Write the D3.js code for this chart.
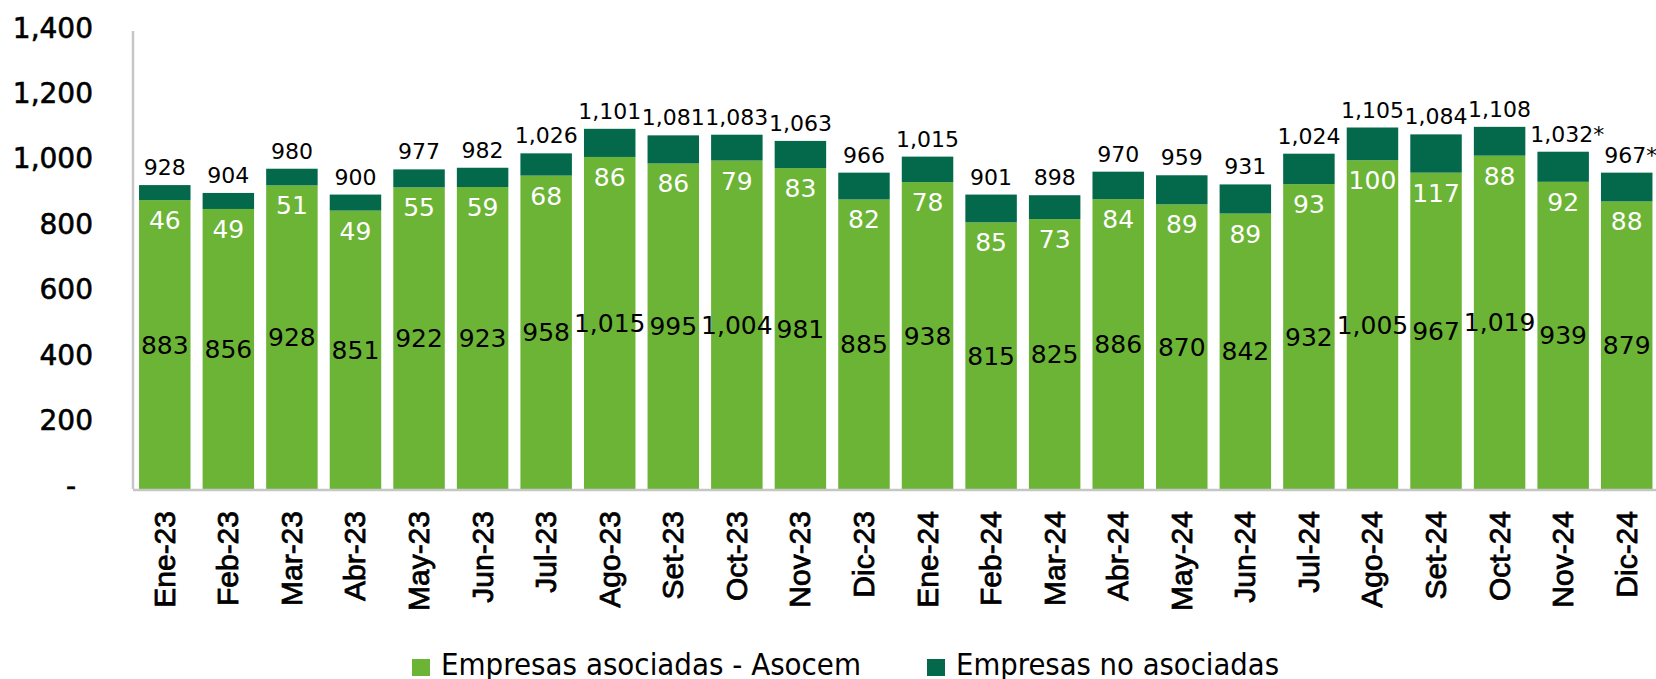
<!DOCTYPE html>
<html>

<head>
    <meta charset="utf-8">
    <style>
        body {
            margin: 0;
            background: #ffffff;
        }

        svg {
            display: block;
        }

        .ytick {
            font-family: "DejaVu Sans", sans-serif;
            font-size: 28px;
            fill: #000000;
            stroke: #000000;
            stroke-width: 0.6px;
        }

        .xtick {
            font-family: "Liberation Sans", Arial, sans-serif;
            font-size: 30px;
            fill: #000000;
            stroke: #000000;
            stroke-width: 0.8px;
        }

        .lbl {
            font-family: "DejaVu Sans", sans-serif;
        }

        .legend-text {
            font-family: "DejaVu Sans", sans-serif;
            font-size: 30px;
            fill: #000000;
        }
    </style>
</head>

<body>
    <svg width="1656" height="679"></svg>
</body>

<script src="https://d3js.org/d3.v7.min.js"></script>

<script>
//------------------------1. DATA------------------------//
let months = ["Ene-23", "Feb-23", "Mar-23", "Abr-23", "May-23", "Jun-23", "Jul-23", "Ago-23", "Set-23", "Oct-23", "Nov-23", "Dic-23",
              "Ene-24", "Feb-24", "Mar-24", "Abr-24", "May-24", "Jun-24", "Jul-24", "Ago-24", "Set-24", "Oct-24", "Nov-24", "Dic-24"]

//Empresas asociadas - Asocem
let asociadas = [883, 856, 928, 851, 922, 923, 958, 1015, 995, 1004, 981, 885,
                 938, 815, 825, 886, 870, 842, 932, 1005, 967, 1019, 939, 879]

//Empresas no asociadas
let noAsociadas = [46, 49, 51, 49, 55, 59, 68, 86, 86, 79, 83, 82,
                   78, 85, 73, 84, 89, 89, 93, 100, 117, 88, 92, 88]

//Totals shown above each bar
let totals = [928, 904, 980, 900, 977, 982, 1026, 1101, 1081, 1083, 1063, 966,
              1015, 901, 898, 970, 959, 931, 1024, 1105, 1084, 1108, 1032, 967]

//months whose total carries an asterisk
let preliminary = ["Nov-24", "Dic-24"]

let yTicks = [0, 200, 400, 600, 800, 1000, 1200, 1400]

let seriesNames = ["Empresas asociadas - Asocem", "Empresas no asociadas"]
let colors = ["#6cb436", "#03694a"]

let rows = months.map(function(m, i){
    return {month: m, asociadas: asociadas[i], noAsociadas: noAsociadas[i], total: totals[i]}
})

//------------------------2. SCALES------------------------//
let svg = d3.select("svg")
let margins = {top: 31, right: -2.5, bottom: 190, left: 133}
let width = 1656
let height = 679

let x = d3.scaleBand()
    .domain(months)
    .range([margins.left, width - margins.right])
    .paddingInner(0.19)
    .paddingOuter(0.095)

let y = d3.scaleLinear()
    .domain([0, 1400])
    .range([height - margins.bottom, margins.top])

let fmt = d3.format(",")

//------------------------3. AXES------------------------//
//Y-axis labels
let yAxis = svg.append("g")
    .attr("class", "yaxis")
    .attr("transform", `translate(93,0)`)
    .call(d3.axisLeft(y)
        .tickValues(yTicks)
        .tickSize(0)
        .tickPadding(0)
        .tickFormat(function(d){ return d == 0 ? "-" : fmt(d) }))
    .call(g => g.select(".domain").remove())

yAxis.selectAll(".tick text")
    .attr("class", "ytick")
    .attr("dy", null)
    .attr("y", 6)
    .attr("x", function(d){ return d == 0 ? -17 : 0 })
    .attr("fill", null)

//----------------------------BARS----------------------------//
let stack = d3.stack().keys(["asociadas", "noAsociadas"])
let stacked = stack(rows)

svg.append("g")
    .selectAll("g")
    .data(stacked)
    .join("g")
    .attr("fill", function(d, i){ return colors[i] })
    .selectAll("rect")
    .data(function(d){ return d })
    .join("rect")
    .attr("x", function(d){ return x(d.data.month) })
    .attr("y", function(d){ return y(d[1]) })
    .attr("width", x.bandwidth())
    .attr("height", function(d){ return y(d[0]) - y(d[1]) })

//axis lines (drawn after bars)
svg.append("line")
    .attr("x1", margins.left).attr("x2", margins.left)
    .attr("y1", y(1400)).attr("y2", y(0))
    .attr("stroke", "#c6c6c6")
    .attr("stroke-width", 2.5)

svg.append("line")
    .attr("x1", margins.left).attr("x2", width)
    .attr("y1", y(0) + 1).attr("y2", y(0) + 1)
    .attr("stroke", "#c6c6c6")
    .attr("stroke-width", 2.5)

//X-axis labels (rotated)
svg.append("g")
    .selectAll("text")
    .data(months)
    .join("text")
    .attr("class", "xtick")
    .attr("transform", function(d){
        return `translate(${x(d) + x.bandwidth() / 2 + 10},511) rotate(-90)`
    })
    .attr("text-anchor", "end")
    .text(function(d){ return d })

//----------------------------LABELS----------------------------//
//green values, centred in the green segment
svg.append("g")
    .selectAll("text")
    .data(rows)
    .join("text")
    .attr("class", "lbl")
    .attr("x", function(d){ return x(d.month) + x.bandwidth() / 2 })
    .attr("y", function(d){ return y(d.asociadas / 2) + 9 })
    .attr("text-anchor", "middle")
    .attr("font-size", 25)
    .attr("fill", "#000000")
    .text(function(d){ return fmt(d.asociadas) })

//dark values, white, just under the dark segment
svg.append("g")
    .selectAll("text")
    .data(rows)
    .join("text")
    .attr("class", "lbl")
    .attr("x", function(d){ return x(d.month) + x.bandwidth() / 2 })
    .attr("y", function(d){ return y(d.asociadas) + 29 })
    .attr("text-anchor", "middle")
    .attr("font-size", 25)
    .attr("fill", "#ffffff")
    .text(function(d){ return fmt(d.noAsociadas) })

//totals above the bar
svg.append("g")
    .selectAll("text")
    .data(rows)
    .join("text")
    .attr("class", "lbl")
    .attr("x", function(d){
        let shift = preliminary.includes(d.month) ? 4 : 0
        return x(d.month) + x.bandwidth() / 2 + shift
    })
    .attr("y", function(d){ return y(d.asociadas + d.noAsociadas) - 10 })
    .attr("text-anchor", "middle")
    .attr("font-size", 22)
    .attr("fill", "#000000")
    .text(function(d){
        return fmt(d.total) + (preliminary.includes(d.month) ? "*" : "")
    })

//----------------------------LEGEND----------------------------//
let legendX = [412, 927]
let legendW = [420, 323]

let legend = svg.append("g")
    .selectAll("g")
    .data(seriesNames)
    .join("g")
    .attr("transform", function(d, i){ return `translate(${legendX[i]},0)` })

legend.append("rect")
    .attr("x", 0)
    .attr("y", 659)
    .attr("width", 18)
    .attr("height", 17)
    .attr("fill", function(d, i){ return colors[i] })

legend.append("text")
    .attr("class", "legend-text")
    .attr("x", 29)
    .attr("y", 675)
    .attr("textLength", function(d, i){ return legendW[i] })
    .attr("lengthAdjust", "spacingAndGlyphs")
    .text(function(d){ return d })

</script>

</html>
